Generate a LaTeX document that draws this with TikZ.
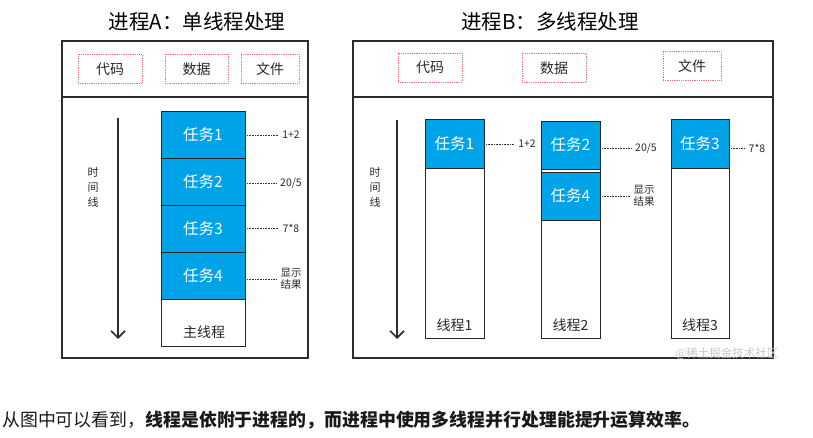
\documentclass[tikz,border=0pt]{standalone}
\usepackage{fontspec}
\setmainfont{Noto Sans CJK SC}
\usetikzlibrary{arrows.meta,positioning}
\definecolor{taskBlue}{RGB}{0,163,232}
\definecolor{resRed}{RGB}{232,120,120}
\definecolor{frameGray}{RGB}{45,45,45}
\definecolor{noteGray}{RGB}{40,40,40}
\definecolor{markGray}{RGB}{200,200,200}
\newcommand{\fs}[1]{\fontsize{#1}{#1}\selectfont}
\tikzset{
  procbox/.style={draw=frameGray, line width=1.3pt},
  resbox/.style={draw=resRed, densely dotted, line width=0.8pt, minimum height=29pt, font=\fs{14}, text=noteGray},
  taskbox/.style={draw=black!85, fill=taskBlue, text=white, line width=0.8pt, font=\fs{15.5}},
  threadbox/.style={draw=black!85, fill=white, line width=0.8pt},
  notetext/.style={font=\fontsize{10.5}{12}\selectfont, text=noteGray, inner sep=1pt, align=center},
  link/.style={densely dotted, line width=0.6pt, black!80, shorten >=3pt},
  timeline/.style={line width=1.6pt, frameGray, -{Straight Barb[length=7pt,width=14pt,line width=1.6pt]}}
}

\begin{document}
\begin{tikzpicture}[x=1pt,y=-1pt]
\useasboundingbox (0,0) rectangle (813,438);
% titles
\node[font=\fs{20.5}] (titleA) at (197,22) {进程A：单线程处理};
\node[font=\fs{20.5}] (titleB) at (550,22) {进程B：多线程处理};
% process frames
\draw[procbox] (62,41) rectangle (308,358);
\draw[procbox] (62,97) -- (308,97);
\draw[procbox] (353,41) rectangle (773,358);
\draw[procbox] (353,97) -- (773,97);

% resources
\foreach \nm/\x/\y/\w/\t in {codeA/110/69/64/代码, dataA/196.5/69/63/数据, fileA/270/69/58/文件,
  codeB/430/67.5/64/代码, dataB/554/68/64/数据, fileB/692/66/58/文件}
{
    \node[resbox, minimum width=\w pt] (\nm) at (\x,\y) {\t};
}

% process A: one thread
\coordinate (tA0) at (118,118);
\coordinate (tA1) at (118,339);
\draw[timeline] (tA0) -- (tA1);
\node[font=\fontsize{11}{15}\selectfont, align=center, text=noteGray] (tAlbl) at (93,187) {时\\间\\线};
\foreach \i in {1,...,4}
{
    \node[taskbox, minimum width=84pt, minimum height=47pt] (a\i) at (203,{87.5+47*\i}) {任务\i};
}
\node[threadbox, minimum width=84pt, minimum height=47pt] (amain) at (203,322.5) {};
\node[font=\fs{14}, text=noteGray] (amainlbl) at (204,332) {主线程};

\node[notetext] (an1) at (291,135) {1+2};
\node[notetext] (an2) at (291,183) {20/5};
\node[notetext] (an3) at (291,228) {7*8};
\node[notetext] (an4) at (291,279) {显示\\结果};
\foreach \i in {1,...,4}
{
    \draw[link] (an\i.west -| a\i.east) -- (an\i.west);
}

% process B: three threads
\coordinate (tB0) at (397,120);
\coordinate (tB1) at (397,339);
\draw[timeline] (tB0) -- (tB1);
\node[font=\fontsize{11}{15}\selectfont, align=center, text=noteGray] (tBlbl) at (375,187) {时\\间\\线};

\node[threadbox, minimum width=59pt, minimum height=219pt] (th1) at (454.5,228.5) {};
\node[threadbox, minimum width=59pt, minimum height=217pt] (th2) at (570.5,229.5) {};
\node[threadbox, minimum width=58pt, minimum height=219pt] (th3) at (700,228.5) {};
\node[taskbox, minimum width=59pt, minimum height=49pt, anchor=north] (b1) at (th1.north) {任务1};
\node[taskbox, minimum width=59pt, minimum height=48pt, anchor=north] (b2) at (th2.north) {任务2};
\node[taskbox, minimum width=59pt, minimum height=48pt] (b4) at (570.5,196) {任务4};
\node[taskbox, minimum width=58pt, minimum height=49pt, anchor=north] (b3) at (th3.north) {任务3};
\foreach \i/\x in {1/454.5, 2/570.5, 3/700}
{
    \node[font=\fs{14}, text=noteGray] (th\i lbl) at (\x,325) {线程\i};
}

\node[notetext] (bn1) at (527,144) {1+2};
\node[notetext] (bn2) at (646,148) {20/5};
\node[notetext] (bn3) at (757,148) {7*8};
\node[notetext] (bn4) at (644,196) {显示\\结果};
\foreach \i in {1,...,4}
{
    \draw[link] (bn\i.west -| b\i.east) -- (bn\i.west);
}

\node[text=markGray, font=\fs{11.5}] (mark) at (727,354) {@稀土掘金技术社区};

% summary line
\node[anchor=west, inner sep=0pt, font=\fs{17.9}, text=black!90] (summary) at (2,420)
  {从图中可以看到，\textbf{线程是依附于进程的，而进程中使用多线程并行处理能提升运算效率。}};
\end{tikzpicture}
\end{document}
